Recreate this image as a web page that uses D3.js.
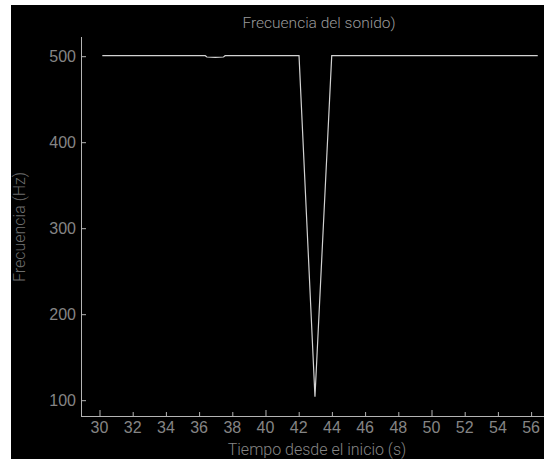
<!DOCTYPE html>
<html>
<head>
<meta charset="utf-8">
<script src="https://cdn.jsdelivr.net/npm/d3@7"></script>
<style>
  html, body { margin: 0; padding: 0; background: #ffffff; }
  svg { display: block; font-family: Roboto, "Noto Sans", sans-serif; }
</style>
</head>
<body>
<svg id="chart" width="544" height="459"></svg>
<script>
// Data
const times = [30.2, 36.4, 36.5, 37.0, 37.5, 37.6, 42.05, 43.01, 44.02, 56.43];
const freqs = [500, 500, 498.5, 498, 498.5, 500, 500, 103.5, 500, 500];
const xTickValues = [30, 32, 34, 36, 38, 40, 42, 44, 46, 48, 50, 52, 54, 56];
const yTickValues = [100, 200, 300, 400, 500];
const titleText = "Frecuencia del sonido)";
const xLabelText = "Tiempo desde el inicio (s)";
const yLabelText = "Frecuencia (Hz)";

const svg = d3.select("#chart");
const W = 544, H = 459;

// dark panel
svg.append("rect").attr("x", 11).attr("y", 5).attr("width", W - 11).attr("height", H - 5).attr("fill", "#000");

const plot = { left: 81, right: 544, top: 37, bottom: 416 };

const x = d3.scaleLinear().domain([28.916, 56.807]).range([plot.left, plot.right]);
const y = d3.scaleLinear().domain([81.05, 521.74]).range([plot.bottom, plot.top]);

const axisColor = "#b4b4b4";
const labelColor = "#858585";

// x axis (ticks pointing up, major every 10)
const gx = svg.append("g").attr("transform", `translate(0,${plot.bottom})`);
gx.call(d3.axisBottom(x).tickValues(xTickValues).tickSize(0).tickPadding(0).tickFormat(d3.format("d")));
gx.select(".domain").remove();
gx.append("line").attr("x1", plot.left).attr("x2", plot.right).attr("y1", 0.5).attr("y2", 0.5)
  .attr("stroke", axisColor).attr("stroke-width", 1);
gx.selectAll(".tick").append("line")
  .attr("x1", 0.5).attr("x2", 0.5).attr("y1", 0)
  .attr("y2", d => d % 10 === 0 ? -6 : -4)
  .attr("stroke", axisColor).attr("stroke-width", 1);
gx.selectAll(".tick text")
  .attr("y", 17).attr("dy", 0)
  .attr("fill", labelColor).attr("font-size", 16).attr("font-weight", 300);

// y axis (ticks pointing right)
const gy = svg.append("g").attr("transform", `translate(${plot.left},0)`);
gy.call(d3.axisLeft(y).tickValues(yTickValues).tickSize(0).tickPadding(5).tickFormat(d3.format("d")));
gy.select(".domain").remove();
gy.append("line").attr("x1", 0.5).attr("x2", 0.5).attr("y1", plot.top).attr("y2", plot.bottom + 1)
  .attr("stroke", axisColor).attr("stroke-width", 1);
gy.selectAll(".tick").append("line")
  .attr("x1", 0).attr("x2", 5).attr("y1", 0.5).attr("y2", 0.5)
  .attr("stroke", axisColor).attr("stroke-width", 1);
gy.selectAll(".tick text")
  .attr("fill", labelColor).attr("font-size", 16).attr("font-weight", 300).attr("dy", "0.35em");

// data line
const line = d3.line().x((d, i) => x(times[i])).y(d => y(d));
svg.append("path")
  .datum(freqs)
  .attr("d", line)
  .attr("fill", "none")
  .attr("stroke", "#d2d2d2")
  .attr("stroke-width", 1.2);

// title
svg.append("text").attr("x", 319).attr("y", 28).attr("text-anchor", "middle")
  .attr("fill", "#9a9a9a").attr("font-size", 15.5).attr("font-weight", 300).text(titleText);

// x label
svg.append("text").attr("x", 317).attr("y", 455).attr("text-anchor", "middle")
  .attr("fill", labelColor).attr("font-size", 16).attr("font-weight", 300).text(xLabelText);

// y label
svg.append("text").attr("transform", "translate(25,227) rotate(-90)").attr("text-anchor", "middle")
  .attr("fill", "#6e6e6e").attr("font-size", 16).attr("font-weight", 300).text(yLabelText);
</script>
</body>
</html>
